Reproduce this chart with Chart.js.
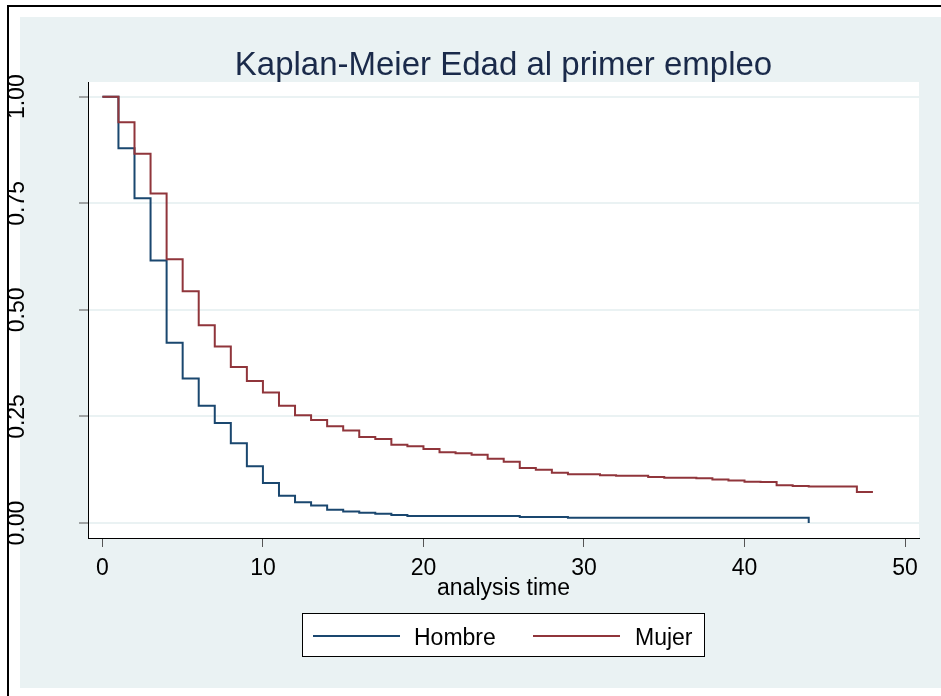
<!DOCTYPE html>
<html>
<head>
<meta charset="utf-8">
<script src="https://cdn.jsdelivr.net/npm/chart.js@4/dist/chart.umd.min.js"></script>
<style>
  html, body { margin: 0; padding: 0; background: #fff; }
  #km { display: block; }
</style>
</head>
<body>
<canvas id="km" width="941" height="696"></canvas>
<script>
// Kaplan-Meier survival estimates
const hombreTime = [0, 1, 2, 3, 4, 5, 6, 7, 8, 9, 10, 11, 12, 13, 14, 15, 16, 17, 18, 19, 26, 29, 44]
const hombreSurv = [1.0, 0.879, 0.762, 0.616, 0.423, 0.339, 0.275, 0.235, 0.187, 0.133, 0.094, 0.064, 0.049, 0.041, 0.031, 0.027, 0.024, 0.022, 0.019, 0.0165, 0.014, 0.0125, 0.0]

const mujerTime = [0, 1, 2, 3, 4, 5, 6, 7, 8, 9, 10, 11, 12, 13, 14, 15, 16, 17, 18, 19, 20, 21, 22, 23, 24, 25, 26, 27, 28, 29, 31, 32, 34, 35, 37, 38, 39, 40, 41, 42, 43, 44, 47, 48]
const mujerSurv = [1.0, 0.940, 0.866, 0.773, 0.619, 0.544, 0.464, 0.414, 0.366, 0.333, 0.306, 0.275, 0.253, 0.242, 0.227, 0.217, 0.202, 0.197, 0.184, 0.180, 0.174, 0.166, 0.164, 0.160, 0.151, 0.144, 0.129, 0.125, 0.118, 0.1145, 0.112, 0.111, 0.108, 0.1066, 0.105, 0.102, 0.0996, 0.097, 0.0965, 0.089, 0.087, 0.0855, 0.073, 0.073]

const xTicks = [0, 10, 20, 30, 40, 50]
const yTicks = [0, 0.25, 0.5, 0.75, 1]

const chartTitle = 'Kaplan-Meier Edad al primer empleo'
const xTitle = 'analysis time'

const navy = '#1a476f'
const maroon = '#90353b'
const bg = '#eaf2f3'
const font = "'Liberation Sans', Arial, Helvetica, sans-serif"

// stata-like frame, title and boxed legend
const stataFrame = {
  id: 'stataFrame',
  beforeDraw(chart) {
    const { ctx, chartArea: a } = chart
    ctx.save()
    ctx.fillStyle = '#fff'
    ctx.fillRect(0, 0, chart.width, chart.height)
    ctx.fillStyle = bg
    ctx.fillRect(20, 17, chart.width - 20, 671)
    ctx.strokeStyle = '#000'
    ctx.lineWidth = 2
    ctx.strokeRect(8, 6, chart.width + 10, chart.height + 10)
    ctx.fillStyle = '#fff'
    ctx.fillRect(a.left, a.top, a.right - a.left, a.bottom - a.top)
    ctx.restore()
  },
  afterDraw(chart) {
    const { ctx, chartArea: a } = chart
    ctx.save()
    ctx.fillStyle = '#1a2a4a'
    ctx.font = '33px ' + font
    ctx.textAlign = 'center'
    ctx.textBaseline = 'alphabetic'
    ctx.fillText(chartTitle, (a.left + a.right) / 2, 75)

    // legend
    ctx.fillStyle = '#fff'
    ctx.fillRect(302.5, 613.5, 402, 43)
    ctx.strokeStyle = '#000'
    ctx.lineWidth = 1
    ctx.strokeRect(302.5, 613.5, 402, 43)
    const items = [[313, 414], [533, 635]]
    chart.data.datasets.forEach((ds, i) => {
      const [lx, tx] = items[i]
      ctx.strokeStyle = ds.borderColor
      ctx.lineWidth = 2
      ctx.beginPath()
      ctx.moveTo(lx, 636)
      ctx.lineTo(lx + 87, 636)
      ctx.stroke()
      ctx.fillStyle = '#000'
      ctx.font = '23px ' + font
      ctx.textAlign = 'left'
      ctx.fillText(ds.label, tx, 645)
    })
    ctx.restore()
  }
}

new Chart(document.getElementById('km'), {
  type: 'line',
  data: {
    datasets: [
      {
        label: 'Hombre',
        data: hombreTime.map((t, i) => ({ x: t, y: hombreSurv[i] })),
        borderColor: navy,
        borderWidth: 2,
        pointRadius: 0,
        stepped: true,
        fill: false,
        order: 1,
      },
      {
        label: 'Mujer',
        data: mujerTime.map((t, i) => ({ x: t, y: mujerSurv[i] })),
        borderColor: maroon,
        borderWidth: 2,
        pointRadius: 0,
        stepped: true,
        fill: false,
        order: 0,
      },
    ],
  },
  options: {
    responsive: false,
    animation: false,
    devicePixelRatio: 1,
    layout: { padding: { top: 82, right: 22, left: 0, bottom: 0 } },
    plugins: {
      legend: { display: false },
      title: { display: false },
      tooltip: { enabled: false },
    },
    scales: {
      x: {
        type: 'linear',
        min: -0.897,
        max: 50.87,
        afterBuildTicks: (s) => { s.ticks = xTicks.map((v) => ({ value: v })) },
        afterFit: (s) => { s.height = 158 },
        grid: { drawOnChartArea: false, tickLength: 9, tickColor: '#555', tickWidth: 1 },
        border: { color: '#000', width: 1 },
        ticks: { color: '#000', font: { size: 23, family: font }, padding: 8, maxRotation: 0 },
        title: { display: true, text: xTitle, color: '#000', font: { size: 23, family: font }, padding: { top: 0, bottom: 94 } },
      },
      y: {
        min: -0.035,
        max: 1.0345,
        afterBuildTicks: (s) => { s.ticks = yTicks.map((v) => ({ value: v })) },
        afterFit: (s) => { s.width = 88 },
        grid: { color: bg, lineWidth: 2, tickLength: 9, tickColor: '#555', tickWidth: 1 },
        border: { color: '#000', width: 1 },
        ticks: {
          color: '#000',
          font: { size: 23, family: font },
          minRotation: 90,
          maxRotation: 90,
          crossAlign: 'center',
          padding: 39,
          callback: (v) => v.toFixed(2),
        },
      },
    },
  },
  plugins: [stataFrame],
})
</script>
</body>
</html>
